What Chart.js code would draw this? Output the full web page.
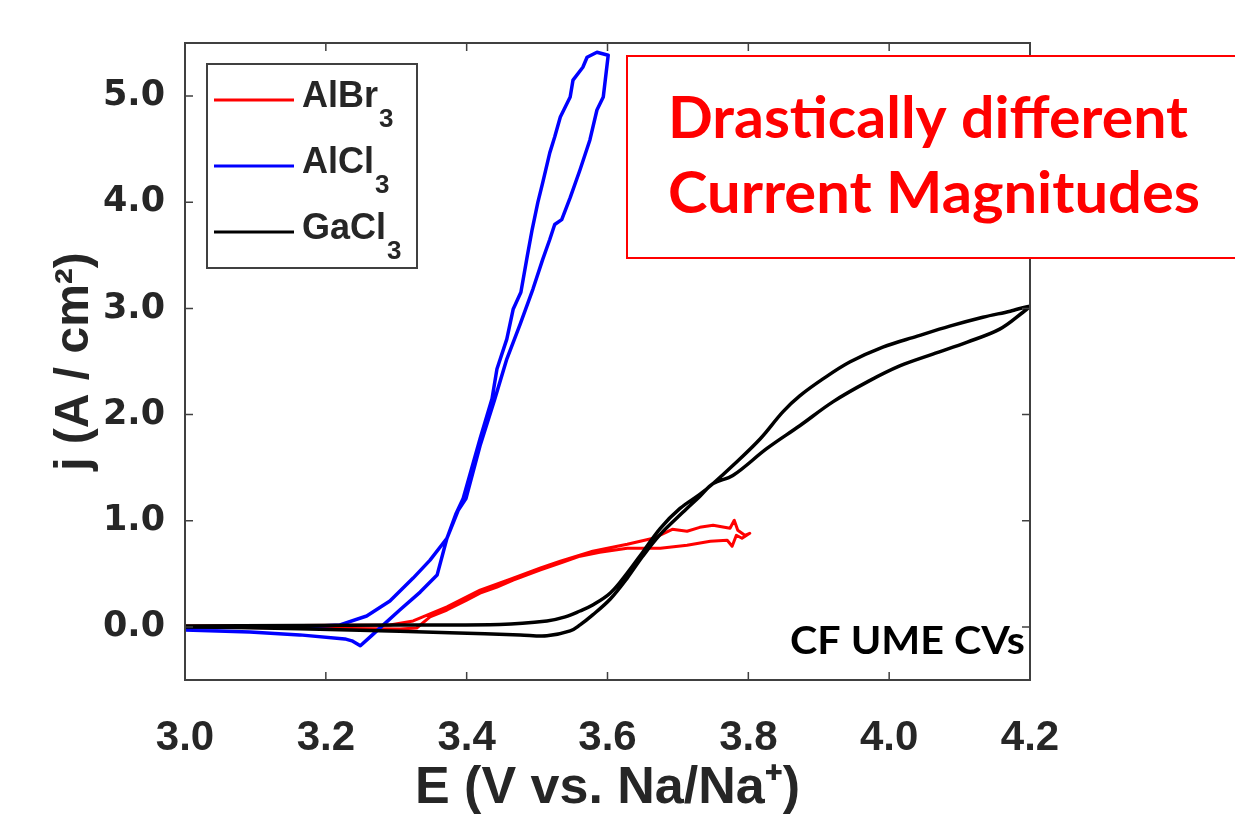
<!DOCTYPE html>
<html>
<head>
<meta charset="utf-8">
<title>CF UME CVs</title>
<script src="https://cdn.jsdelivr.net/npm/chart.js@4.4.1/dist/chart.umd.min.js"></script>
<style>
  html, body { margin: 0; padding: 0; background: #fff; }
  #wrap { width: 1235px; height: 815px; }
</style>
</head>
<body>
<div id="wrap"><canvas id="myChart" width="1235" height="815"></canvas></div>
<script>
const xTicks = [3.0, 3.2, 3.4, 3.6, 3.8, 4.0, 4.2];
const yTicks = [0, 1, 2, 3, 4, 5];
const legendNames = ['AlBr', 'AlCl', 'GaCl'];
const seriesColors = ['#ff0000', '#0000ff', '#000000'];

// AlBr3: forward scan then reverse scan
const albr3E = [3.000, 3.163, 3.305, 3.329, 3.348, 3.372, 3.400, 3.419, 3.443, 3.466, 3.504, 3.537, 3.561, 3.589, 3.628, 3.675, 3.713, 3.746, 3.770, 3.777, 3.783, 3.791, 3.802,
                3.795, 3.785, 3.780, 3.774, 3.750, 3.731, 3.713, 3.692, 3.665, 3.628, 3.579, 3.533, 3.504, 3.466, 3.419, 3.372, 3.348, 3.324, 3.291, 3.163, 3.000];
const albr3J = [0.000, -0.010, -0.020, -0.010, 0.094, 0.159, 0.253, 0.319, 0.375, 0.441, 0.535, 0.610, 0.666, 0.704, 0.741, 0.741, 0.769, 0.807, 0.816, 0.760, 0.863, 0.835, 0.882,
                0.863, 0.910, 1.004, 0.929, 0.957, 0.938, 0.901, 0.919, 0.835, 0.779, 0.713, 0.619, 0.553, 0.460, 0.347, 0.188, 0.122, 0.056, 0.019, 0.014, 0.009];

// AlCl3
const alcl3E = [3.000, 3.092, 3.163, 3.227, 3.237, 3.249, 3.263, 3.277, 3.305, 3.334, 3.358, 3.372, 3.388, 3.399, 3.419, 3.440, 3.457, 3.476, 3.494, 3.508, 3.518, 3.525, 3.535, 3.547, 3.561, 3.575, 3.585, 3.594, 3.601,
                3.585, 3.571, 3.565, 3.551, 3.547, 3.533, 3.525, 3.518, 3.508, 3.501, 3.493, 3.486, 3.477, 3.466, 3.457, 3.443, 3.436, 3.419, 3.395, 3.385, 3.372, 3.348, 3.324, 3.291, 3.258, 3.220, 3.163, 3.000];
const alcl3J = [-0.028, -0.047, -0.075, -0.113, -0.131, -0.178, -0.094, -0.009, 0.159, 0.328, 0.488, 0.835, 1.098, 1.210, 1.707, 2.148, 2.523, 2.852, 3.180, 3.462, 3.649, 3.790, 3.837, 4.043, 4.306, 4.587, 4.869, 4.991, 5.385,
                5.413, 5.366, 5.272, 5.150, 4.991, 4.803, 4.615, 4.465, 4.184, 3.996, 3.743, 3.490, 3.152, 2.992, 2.711, 2.430, 2.148, 1.773, 1.210, 1.069, 0.835, 0.629, 0.460, 0.244, 0.103, 0.019, 0.000, -0.005];

// GaCl3
const gacl3E = [3.000, 3.163, 3.305, 3.447, 3.514, 3.540, 3.561, 3.579, 3.604, 3.628, 3.650, 3.675, 3.703, 3.731, 3.750, 3.778, 3.817, 3.849, 3.873, 3.906, 3.944, 3.991, 4.040, 4.086, 4.133, 4.172, 4.200,
                4.190, 4.157, 4.111, 4.062, 4.015, 3.969, 3.920, 3.873, 3.826, 3.778, 3.750, 3.731, 3.707, 3.675, 3.650, 3.628, 3.604, 3.579, 3.561, 3.547, 3.514, 3.476, 3.376, 3.234, 3.092, 3.000];
const gacl3J = [0.009, 0.014, 0.019, 0.023, 0.056, 0.094, 0.150, 0.206, 0.319, 0.507, 0.704, 0.929, 1.116, 1.248, 1.351, 1.520, 1.773, 2.026, 2.176, 2.336, 2.495, 2.636, 2.739, 2.833, 2.917, 2.974, 3.021,
                2.964, 2.805, 2.683, 2.570, 2.458, 2.308, 2.120, 1.895, 1.679, 1.426, 1.351, 1.229, 1.079, 0.872, 0.666, 0.460, 0.263, 0.113, 0.019, -0.038, -0.084, -0.075, -0.056, -0.028, -0.009, 0.000];

const axisColor = '#262626';
const tickFont = "'Liberation Sans', Arial, sans-serif";
const noteFont = "Lato, 'Open Sans', sans-serif";

function toPoints(es, js) {
  return es.map((e, i) => ({ x: e, y: js[i] }));
}

function fitText(ctx, text, x, baseline, width) {
  const w = ctx.measureText(text).width;
  ctx.save();
  ctx.translate(x, baseline);
  ctx.scale(width / w, 1);
  ctx.fillText(text, 0, 0);
  ctx.restore();
}

const extras = {
  id: 'extras',
  afterDatasetsDraw(chart) {
    const { ctx, chartArea: a, scales: { x, y } } = chart;
    ctx.save();
    // box + inward ticks, matlab style
    ctx.strokeStyle = '#404040';
    ctx.lineWidth = 2;
    ctx.strokeRect(a.left, a.top, a.right - a.left, a.bottom - a.top);
    ctx.lineWidth = 1.5;
    ctx.beginPath();
    x.ticks.forEach(t => {
      const px = x.getPixelForValue(t.value);
      ctx.moveTo(px, a.bottom); ctx.lineTo(px, a.bottom - 8);
      ctx.moveTo(px, a.top); ctx.lineTo(px, a.top + 8);
    });
    y.ticks.forEach(t => {
      const py = y.getPixelForValue(t.value);
      ctx.moveTo(a.left, py); ctx.lineTo(a.left + 8, py);
      ctx.moveTo(a.right, py); ctx.lineTo(a.right - 8, py);
    });
    ctx.stroke();

    // legend
    ctx.fillStyle = '#fff';
    ctx.fillRect(207, 64, 210, 204);
    ctx.strokeStyle = '#404040';
    ctx.lineWidth = 2;
    ctx.strokeRect(207, 64, 210, 204);
    chart.data.datasets.forEach((ds, i) => {
      const yy = 100 + 66 * i;
      ctx.strokeStyle = ds.borderColor;
      ctx.lineWidth = 3;
      ctx.beginPath();
      ctx.moveTo(214, yy); ctx.lineTo(294, yy);
      ctx.stroke();
      ctx.fillStyle = axisColor;
      ctx.textBaseline = 'alphabetic';
      ctx.font = 'bold 36px ' + tickFont;
      ctx.fillText(legendNames[i], 302, yy + 7);
      const w = ctx.measureText(legendNames[i]).width;
      ctx.font = 'bold 26px ' + tickFont;
      ctx.fillText('3', 303 + w, yy + 27);
    });

    // CF UME CVs
    ctx.fillStyle = '#000';
    ctx.font = 'bold 38px ' + noteFont;
    fitText(ctx, 'CF UME CVs', 790, 654, 235);
    ctx.restore();
  },
  afterDraw(chart) {
    const { ctx } = chart;
    ctx.save();
    ctx.fillStyle = '#fff';
    ctx.fillRect(627, 56, 630, 202);
    ctx.strokeStyle = '#ff0000';
    ctx.lineWidth = 2;
    ctx.strokeRect(627, 56, 630, 202);
    ctx.fillStyle = '#ff0000';
    ctx.font = 'bold 57px ' + noteFont;
    ctx.textBaseline = 'alphabetic';
    fitText(ctx, 'Drastically different', 668, 138, 520);
    fitText(ctx, 'Current Magnitudes', 668, 213, 532);
    ctx.restore();
  }
};

const ctx = document.getElementById('myChart');
const myChart = new Chart(ctx, {
  type: 'scatter',
  data: {
    datasets: [
      { label: 'AlBr3', data: toPoints(albr3E, albr3J), borderColor: seriesColors[0], borderWidth: 3, tension: 0, order: 3 },
      { label: 'AlCl3', data: toPoints(alcl3E, alcl3J), borderColor: seriesColors[1], borderWidth: 3.5, tension: 0, order: 2 },
      { label: 'GaCl3', data: toPoints(gacl3E, gacl3J), borderColor: seriesColors[2], borderWidth: 3.5, tension: 0.35, order: 1 }
    ].map(ds => Object.assign(ds, { showLine: true, pointRadius: 0, fill: false, borderJoinStyle: 'round' }))
  },
  options: {
    responsive: false,
    animation: false,
    devicePixelRatio: 1,
    layout: { padding: { left: 0, top: 43, right: 205, bottom: 0 } },
    plugins: { legend: { display: false }, tooltip: { enabled: false } },
    scales: {
      x: {
        type: 'linear',
        min: 3.0,
        max: 4.2,
        afterBuildTicks: s => { s.ticks = xTicks.map(v => ({ value: v })); },
        afterFit: s => { s.height = 135; },
        grid: { display: false, drawTicks: false },
        border: { display: false },
        ticks: {
          callback: v => v.toFixed(1),
          color: axisColor,
          font: { family: tickFont, size: 42, weight: 'bold' },
          padding: 33,
          maxRotation: 0,
          autoSkip: false
        },
        title: {
          display: true,
          text: 'E (V vs. Na/Na\u207A)',
          color: axisColor,
          font: { family: tickFont, size: 52, weight: 'bold', lineHeight: 1 },
          padding: { top: 0, bottom: 0 }
        }
      },
      y: {
        type: 'linear',
        min: -0.5,
        max: 5.5,
        afterBuildTicks: s => { s.ticks = yTicks.map(v => ({ value: v })); },
        afterFit: s => { s.width = 185; },
        grid: { display: false, drawTicks: false },
        border: { display: false },
        ticks: {
          callback: v => v.toFixed(1),
          color: axisColor,
          font: { family: "'DejaVu Sans', sans-serif", size: 35, weight: 'bold' },
          padding: 20
        },
        title: {
          display: true,
          text: 'j (A / cm\u00B2)',
          color: axisColor,
          font: { family: tickFont, size: 48, weight: 'bold', lineHeight: 1 },
          padding: { top: 51, bottom: 0 }
        }
      }
    }
  },
  plugins: [extras]
});
</script>
</body>
</html>
